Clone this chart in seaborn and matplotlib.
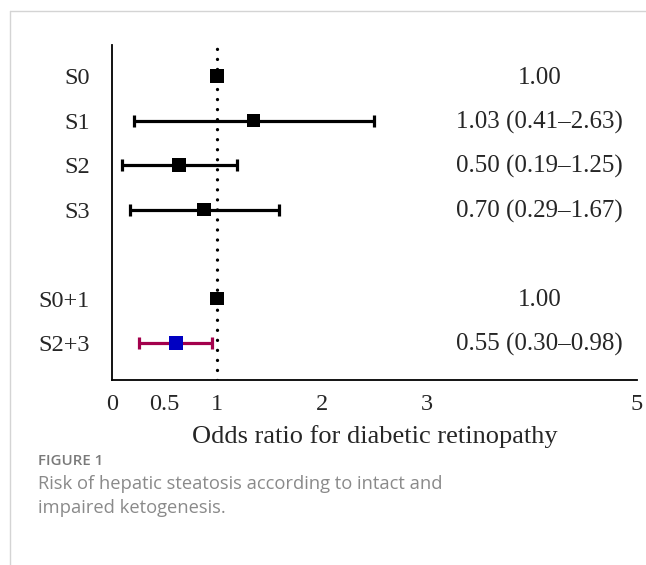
import numpy as np
import pandas as pd
import matplotlib
matplotlib.use("Agg")
import matplotlib.pyplot as plt
import seaborn as sns
from matplotlib.lines import Line2D

# values as drawn in the figure
groups = ["S0", "S1", "S2", "S3", "S0+1", "S2+3"]
odds = [1.00, 1.35, 0.64, 0.88, 1.00, 0.61]
ci_low = [np.nan, 0.21, 0.10, 0.17, np.nan, 0.26]
ci_high = [np.nan, 2.50, 1.19, 1.59, np.nan, 0.95]
kind = ["single", "single", "single", "single", "pooled", "pooled_ci"]
or_text = ["1.00", "1.03 (0.41\u20132.63)", "0.50 (0.19\u20131.25)",
           "0.70 (0.29\u20131.67)", "1.00", "0.55 (0.30\u20130.98)"]
xticks = [0, 0.5, 1, 2, 3, 5]
xtick_labels = ["0", "0.5", "1", "2", "3", "5"]

sns.set_style("white")
plt.rcParams["font.family"] = ["Liberation Serif", "DejaVu Serif"]

# row positions, with an empty row between the two blocks
ypos = [0, 1, 2, 3, 5, 6]

df = pd.DataFrame({"group": groups, "odds": odds, "lo": ci_low, "hi": ci_high,
                   "kind": kind, "y": ypos})

W, H = 646, 565
fig = plt.figure(figsize=(W / 100, H / 100), dpi=100)
ax = fig.add_axes([111.7 / W, 1 - 380 / H, (637 - 111.7) / W, (380 - 45) / H])

# reference line at OR = 1
ax.axvline(1, color="black", lw=2.4, ls=(0, (0.01, 3.0)),
           dash_capstyle="round", zorder=1)

bar_colors = {"single": "black", "pooled": "black", "pooled_ci": "#A3004C"}
for _, r in df.iterrows():
    if np.isnan(r["lo"]):
        continue
    ax.errorbar(r["odds"], r["y"], xerr=[[r["odds"] - r["lo"]], [r["hi"] - r["odds"]]],
                fmt="none", ecolor=bar_colors[r["kind"]], elinewidth=2.3,
                capsize=4.4, capthick=2.3, zorder=2)

sns.scatterplot(data=df, x="odds", y="y", hue="kind", marker="s", s=96,
                linewidth=0, legend=False, zorder=3, ax=ax,
                palette={"single": "black", "pooled": "black", "pooled_ci": "#0000C2"})

for yy, t in zip(ypos, or_text):
    ax.text(4.07, yy + 0.04, t, ha="center", va="center", fontsize=18)

ax.set_xlim(0, 5)
ax.set_ylim(6.83, -0.70)
ax.set_xticks(xticks)
ax.set_xticklabels(xtick_labels, fontsize=17.5)
ax.set_yticks(ypos)
ax.set_yticklabels(groups, fontsize=17.5)
ax.tick_params(axis="y", length=0, pad=15.6)
ax.tick_params(axis="x", direction="in", length=9.4, width=1.2, pad=10, color="black")
ax.set_xlabel("Odds ratio for diabetic retinopathy", fontsize=19, labelpad=7)
ax.set_ylabel("")
for side in ["top", "right"]:
    ax.spines[side].set_visible(False)
for side in ["left", "bottom"]:
    ax.spines[side].set_color("black")
    ax.spines[side].set_linewidth(1.3)

# page border and caption
fig.add_artist(Line2D([9.5 / W, 9.5 / W], [0, 1 - 10.5 / H], color="#d4d4d4", lw=1))
fig.add_artist(Line2D([9.5 / W, 1], [1 - 10.5 / H, 1 - 10.5 / H], color="#d4d4d4", lw=1))
fig.text(38 / W, 1 - 461 / H, "FIGURE 1", family=["Open Sans", "DejaVu Sans"],
         weight="semibold", fontsize=10.8, color="#7a7a7a", va="center")
fig.text(38 / W, 1 - 484 / H, "Risk of hepatic steatosis according to intact and",
         family=["Open Sans", "DejaVu Sans"], fontsize=13.2, color="#8a8a8a", va="center")
fig.text(38 / W, 1 - 508 / H, "impaired ketogenesis.",
         family=["Open Sans", "DejaVu Sans"], fontsize=13.2, color="#8a8a8a", va="center")

fig.savefig("out.png", dpi=100)
